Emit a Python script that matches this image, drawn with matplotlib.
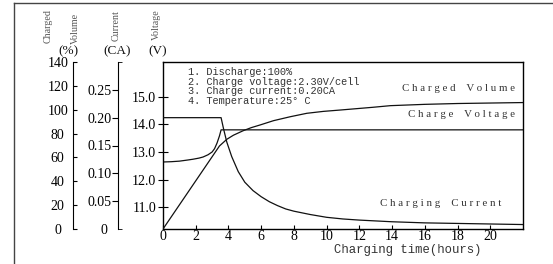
"""Charging characteristics of a 12V lead-acid battery (0.20CA, 2.30V/cell)."""
import matplotlib

matplotlib.use("Agg")
import matplotlib.pyplot as plt
from matplotlib.lines import Line2D
from matplotlib.ticker import FixedFormatter, FixedLocator

INK, GREY = "#111111", "#333333"
SERIF, MONO = "Liberation Serif", "Liberation Mono"

# charge voltage (V)
volt_t = [0, 0.5, 1.0, 1.5, 1.84, 2.2, 2.45, 2.75, 3.0, 3.15, 3.3, 3.45, 3.55, 22]
volt_v = [12.64, 12.65, 12.67, 12.71, 12.74, 12.78, 12.82, 12.9, 13.0, 13.12, 13.32, 13.58, 13.8, 13.8]

# charging current (CA)
curr_t = [0, 3.55, 3.7, 3.9, 4.2, 4.6, 5.0, 5.5, 6.0, 6.5, 7.0, 7.5, 8.0, 9.0, 10.0,
          11.0, 12.0, 14.0, 16.0, 18.0, 20.0, 22.0]
curr_a = [0.20, 0.20, 0.180, 0.156, 0.130, 0.103, 0.084, 0.069, 0.058, 0.049, 0.042,
          0.036, 0.032, 0.026, 0.021, 0.018, 0.016, 0.013, 0.011, 0.010, 0.009, 0.008]

# charged volume (%)
vol_t = [0, 3.45, 3.9, 4.3, 4.9, 5.4, 5.93, 6.75, 7.77, 8.79, 9.8, 10.8, 12.8, 13.9,
         16, 18, 20, 22]
vol_p = [0, 69.6, 75.2, 78.6, 82.4, 85.0, 87.2, 90.8, 94.1, 97.0, 98.6, 99.7, 102.0,
         103.4, 104.5, 105.2, 105.6, 106.0]

x_ticks = list(range(0, 22, 2))
volt_ticks = [11.0, 12.0, 13.0, 14.0, 15.0]
pct_ticks = list(range(0, 160, 20))
ca_ticks = [0.05, 0.10, 0.15, 0.20, 0.25]
ca_caps = [0, 0.30]

notes = ["1. Discharge:100%", "2. Charge voltage:2.30V/cell",
         "3. Charge current:0.20CA", "4. Temperature:25\u00b0 C"]


def spaced(s):
    return " ".join(s).replace("   ", "    ")


def side_axis(ax, offset):
    a = ax.twinx()
    a.patch.set_visible(False)
    for k in ("top", "bottom", "right"):
        a.spines[k].set_visible(False)
    a.spines["left"].set_visible(True)
    a.spines["left"].set_position(("axes", offset))
    a.yaxis.set_ticks_position("left")
    return a


fig = plt.figure(figsize=(5.53, 2.64), dpi=100)
ax = fig.add_axes([163 / 553, 1 - 229 / 264, 360 / 553, 167 / 264])

# voltage on the main axis
ax.plot(volt_t, volt_v, color=INK, lw=0.9)
ax.set_xlim(0, 22)
ax.set_ylim(10.22, 16.25)
ax.set_xticks(x_ticks)
ax.set_yticks(volt_ticks, [f"{v:.1f}" for v in volt_ticks])
ax.tick_params(axis="x", direction="in", length=3, pad=1, labelsize=10)
ax.tick_params(axis="y", direction="inout", length=7, pad=10, labelsize=10)
for lab in ax.get_yticklabels():
    lab.set_horizontalalignment("center")
for lab in ax.get_xticklabels() + ax.get_yticklabels():
    lab.set_fontfamily(SERIF)
for s in ax.spines.values():
    s.set_linewidth(1.0)

# charged volume axis
ap = side_axis(ax, -0.25)
ap.plot(vol_t, vol_p, color=INK, lw=0.9)
ap.set_ylim(0, 140)
ap.set_yticks(pct_ticks)
ap.tick_params(axis="y", direction="in", length=3, pad=11, labelsize=10)
for lab in ap.get_yticklabels():
    lab.set_horizontalalignment("center")
    lab.set_fontfamily(SERIF)

# current axis
ac = side_axis(ax, -0.125)
ac.plot(curr_t, curr_a, color=INK, lw=0.9)
ac.set_ylim(0, 0.30)
ac.set_yticks(ca_ticks, [f"{v:.2f}" for v in ca_ticks])
ac.yaxis.set_minor_locator(FixedLocator(ca_caps))
ac.yaxis.set_minor_formatter(FixedFormatter(["0", ""]))
ac.tick_params(axis="y", which="major", direction="out", length=4, pad=9, labelsize=10)
ac.tick_params(axis="y", which="minor", direction="in", length=3, pad=10, labelsize=10)
for lab in ac.get_yticklabels() + ac.get_yticklabels(minor=True):
    lab.set_horizontalalignment("center")
    lab.set_fontfamily(SERIF)

# test conditions
for i, line in enumerate(notes):
    ax.text(0.069, 0.94 - i * 0.058, line, transform=ax.transAxes, fontsize=7.4,
            family=MONO, color=GREY, va="center")

# curve names
ax.text(0.978, 0.844, spaced("Charged Volume"), transform=ax.transAxes, ha="right",
        va="center", fontsize=7.8, family=SERIF, color=GREY)
ax.text(0.978, 0.683, spaced("Charge Voltage"), transform=ax.transAxes, ha="right",
        va="center", fontsize=7.8, family=SERIF, color=GREY)
ax.text(0.603, 0.150, spaced("Charging Current"), transform=ax.transAxes, ha="left",
        va="center", fontsize=7.8, family=SERIF, color=GREY)

ax.set_xlabel("Charging time(hours)", family=MONO, fontsize=8.8, color=GREY)
ax.xaxis.set_label_coords(0.68, -0.09)

# axis titles above the scales
for x, y, s in [(48, 26, "Charged"), (75, 28, "Volume"), (116, 26, "Current"), (156, 25, "Voltage")]:
    fig.text(x / 553, 1 - y / 264, s, rotation=90, ha="center", va="center",
             fontsize=7.2, family=SERIF, color="#555555")
for x, s in [(68, "(%)"), (117, "(CA)"), (158, "(V)")]:
    fig.text(x / 553, 1 - 51.5 / 264, s, ha="center", va="center", fontsize=9.5,
             family=SERIF, color=INK)

# outer frame (left and top edges show in the crop)
fig.add_artist(Line2D([14 / 553, 14 / 553], [0, 1 - 2.5 / 264], color="#444444", lw=1.0))
fig.add_artist(Line2D([14 / 553, 1], [1 - 2.5 / 264, 1 - 2.5 / 264], color="#444444", lw=1.0))

fig.savefig("out.png", dpi=100)
